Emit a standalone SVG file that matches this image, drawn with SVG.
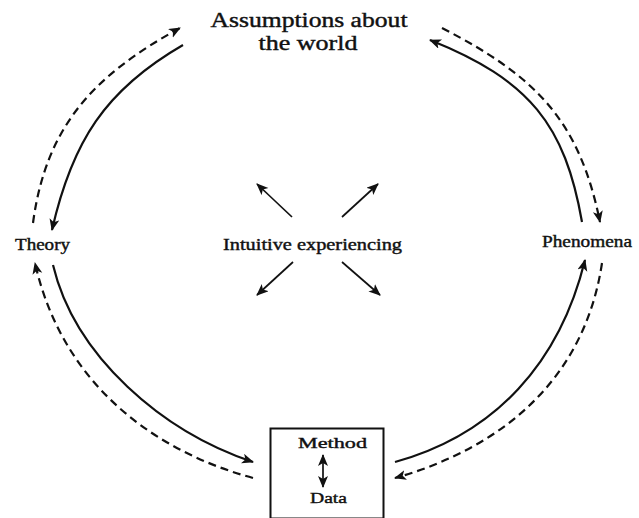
<svg xmlns="http://www.w3.org/2000/svg" width="639" height="518" viewBox="0 0 639 518">
<style>
text{font-family:"Liberation Serif","Times New Roman",serif;fill:#111;stroke:#111;stroke-width:0.4;}
.t{font-size:20px;text-anchor:middle;}
.l{font-size:16px;}
.s{font-size:15px;}
.c{fill:none;stroke:#111;stroke-width:2.2;}
.d{stroke-dasharray:8 5;}
.a{fill:none;stroke:#111;stroke-width:1.7;}
</style>
<defs>
<marker id="ah" markerUnits="userSpaceOnUse" markerWidth="14" markerHeight="12" refX="11" refY="5" orient="auto">
<path d="M0,0 L12,5 L0,10 L3,5 Z" fill="#111"/>
</marker>
<marker id="ahs" markerUnits="userSpaceOnUse" markerWidth="14" markerHeight="12" refX="11" refY="5" orient="auto-start-reverse">
<path d="M0,0 L12,5 L0,10 L3,5 Z" fill="#111"/>
</marker>
</defs>
<rect width="639" height="518" fill="#fff"/>
<g id="assumptions">
<text class="t" x="309" y="27" textLength="197" lengthAdjust="spacingAndGlyphs">Assumptions about</text>
<text class="t" x="308" y="50" textLength="99" lengthAdjust="spacingAndGlyphs">the world</text>
</g>
<g id="theory"><text class="l" x="15" y="250" textLength="55" lengthAdjust="spacingAndGlyphs">Theory</text></g>
<g id="phenomena"><text class="l" x="542" y="247" textLength="90" lengthAdjust="spacingAndGlyphs">Phenomena</text></g>
<g id="intuitive">
<text class="l" x="223" y="250" textLength="179" lengthAdjust="spacingAndGlyphs">Intuitive experiencing</text>
<line class="a" x1="292" y1="217" x2="257" y2="184" marker-end="url(#ah)"/>
<line class="a" x1="342" y1="217" x2="378" y2="184" marker-end="url(#ah)"/>
<line class="a" x1="293" y1="262" x2="257" y2="295" marker-end="url(#ah)"/>
<line class="a" x1="342" y1="262" x2="380" y2="295" marker-end="url(#ah)"/>
</g>
<g id="method-data">
<rect x="270.5" y="428.5" width="113" height="90" fill="none" stroke="#111" stroke-width="2"/>
<text class="s" x="298" y="448" textLength="69" lengthAdjust="spacingAndGlyphs">Method</text>
<text class="s" x="310" y="503" textLength="37" lengthAdjust="spacingAndGlyphs">Data</text>
<line class="a" x1="323" y1="455" x2="323" y2="487" marker-start="url(#ahs)" marker-end="url(#ahs)"/>
</g>
<g id="connectors">
<path class="c" d="M183,45 C105,90 72,142 52,230" marker-end="url(#ah)"/>
<path class="c d" d="M33,223 C46,126 94,75 180,28" marker-end="url(#ah)"/>
<path class="c" d="M582,222 C565,125 530,80 430,40" marker-end="url(#ah)"/>
<path class="c d" d="M442,28 C535,76 579,119 600,222" marker-end="url(#ah)"/>
<path class="c" d="M53,265 C75,357 163,432 253,462" marker-end="url(#ah)"/>
<path class="c d" d="M253,478 C143,448 60,375 35,263" marker-end="url(#ah)"/>
<path class="c" d="M395,462 C496,434 560,362 585,260" marker-end="url(#ah)"/>
<path class="c d" d="M602,263 C585,377 505,447 395,478" marker-end="url(#ah)"/>
</g>
</svg>
